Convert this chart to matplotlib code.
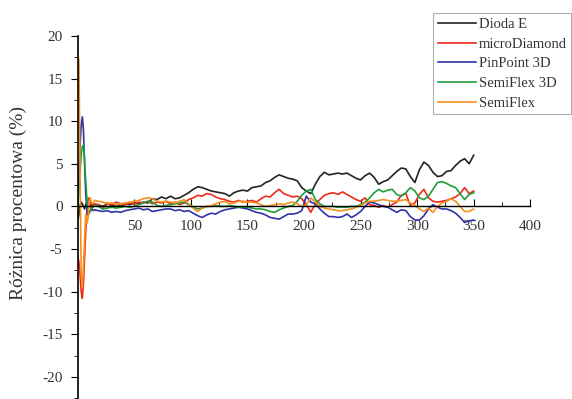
import numpy as np
import matplotlib
matplotlib.use("Agg")
import matplotlib.pyplot as plt
from matplotlib.ticker import MultipleLocator

plt.rcParams['font.family'] = ['Liberation Serif', 'DejaVu Serif']
plt.rcParams['axes.unicode_minus'] = False

# depth samples: every 1 near the surface, then every 4
x = np.concatenate([np.arange(0, 16), np.arange(18, 351, 4)])

dioda_e = [-1.5, -1.0, 0.0, 0.5, 0.3, 0.0, -0.3, 0.2, 0.4, 0.1, 0.0, 0.2, 0.1, 0.3, 0.2, 0.1,
           0.2, 0.0, 0.3, 0.1, 0.2, 0.0, 0.3, 0.2, 0.4, 0.3, 0.5, 0.4, 0.9, 0.8, 1.1, 0.9,
           1.2, 0.9, 1.0, 1.3, 1.6, 2.0, 2.3, 2.2, 2.0, 1.8, 1.7, 1.6, 1.5, 1.2, 1.6, 1.8,
           1.9, 1.8, 2.2, 2.3, 2.4, 2.8, 3.0, 3.4, 3.7, 3.5, 3.3, 3.2, 3.0, 2.2, 1.8, 1.5,
           2.6, 3.5, 4.0, 3.7, 3.8, 3.9, 3.8, 3.9, 3.6, 3.3, 3.1, 3.6, 3.9, 3.4, 2.6, 2.9,
           3.1, 3.6, 4.1, 4.5, 4.4, 3.5, 2.8, 4.3, 5.2, 4.8, 4.0, 3.5, 3.6, 4.1, 4.2, 4.8,
           5.3, 5.6, 5.0, 6.0]

micro_diamond = [-6.0, -6.5, -8.0, -10.0, -10.8, -9.0, -6.0, -3.0, -0.5, 0.8, 1.0, 0.3, -0.5, -0.2, 0.2, 0.3,
                 0.2, -0.3, 0.4, 0.2, 0.5, 0.3, 0.2, 0.4, 0.3, 0.5, 0.4, 0.6, 0.3, 0.5, 0.4, 0.6,
                 0.3, 0.5, 0.2, 0.4, 0.8, 1.0, 1.3, 1.2, 1.5, 1.4, 1.1, 0.9, 0.8, 0.6, 0.5, 0.7,
                 0.5, 0.6, 0.7, 0.5, 0.9, 1.2, 1.1, 1.6, 2.0, 1.5, 1.3, 1.1, 1.2, 0.9, 0.2, -0.7,
                 0.3, 0.8, 1.3, 1.5, 1.6, 1.4, 1.7, 1.4, 1.1, 0.8, 0.6, 1.0, 0.2, 0.1, -0.1, 0.1,
                 -0.1, 0.2, 0.5, 1.3, 1.5, 0.1, 0.4, 1.4, 2.0, 1.0, 0.6, 0.5, 0.6, 0.7, 0.9, 1.1,
                 1.5, 2.2, 1.5, 1.8]

pinpoint_3d = [0.0, 3.0, 7.0, 9.5, 10.5, 9.0, 5.0, 1.5, -0.5, -1.0, -0.8, -0.5, -0.3, -0.4, -0.5, -0.4,
               -0.5, -0.6, -0.5, -0.7, -0.6, -0.7, -0.5, -0.4, -0.3, -0.2, -0.4, -0.3, -0.6, -0.5, -0.4, -0.3,
               -0.3, -0.5, -0.4, -0.6, -0.5, -0.8, -1.1, -1.3, -1.0, -0.8, -0.9, -0.6, -0.4, -0.3, -0.2, -0.1,
               -0.2, -0.3, -0.5, -0.7, -0.8, -1.0, -1.3, -1.4, -1.5, -1.2, -0.9, -0.9, -0.8, -0.5, 1.2, 0.5,
               0.3, -0.3, -0.8, -1.2, -1.2, -1.3, -1.2, -0.9, -1.3, -1.0, -0.6, 0.0, 0.5, 0.4, 0.2, 0.0,
               -0.1, -0.4, -0.7, -0.4, -0.5, -1.2, -1.6, -1.6, -1.1, -0.3, 0.2, -0.1, -0.3, -0.3, -0.5, -0.8,
               -1.3, -1.9, -1.7, -1.6]

semiflex_3d = [0.0, 2.0, 4.0, 6.0, 7.0, 7.2, 5.5, 3.0, 1.0, -0.3, -0.8, -0.5, -0.3, -0.1, 0.0, 0.1,
               0.0, -0.3, -0.2, -0.1, -0.2, -0.1, 0.0, -0.1, 0.0, 0.2, 0.4, 0.6, 0.5, 0.1, 0.0, 0.1,
               0.2, 0.3, 0.4, 0.5, 0.2, -0.1, -0.3, -0.2, 0.0, 0.0, 0.1, 0.0, 0.0, 0.1, 0.0, -0.1,
               -0.1, -0.1, -0.2, -0.3, -0.3, -0.4, -0.6, -0.7, -0.4, -0.2, 0.0, 0.1, 0.6, 1.3, 1.8, 2.0,
               0.8, 0.3, 0.0, 0.0, 0.0, -0.1, -0.1, -0.1, 0.0, 0.0, 0.2, 0.5, 1.0, 1.6, 2.0, 1.7,
               1.9, 2.0, 1.4, 1.2, 1.6, 2.2, 1.8, 1.0, 0.8, 1.2, 2.0, 2.8, 2.9, 2.7, 2.4, 2.2,
               1.5, 0.8, 1.4, 1.6]

semiflex = [18.0, 17.0, 4.0, -8.0, -9.5, -7.0, -4.0, -1.0, -2.0, -1.5, 0.5, 1.0, 0.5, 0.3, 0.5, 0.7,
            0.6, 0.5, 0.3, 0.4, 0.2, 0.3, 0.4, 0.5, 0.6, 0.7, 0.9, 1.0, 0.9, 0.6, 0.5, 0.6,
            0.5, 0.4, 0.6, 0.8, 0.3, -0.2, -0.6, -0.2, 0.0, 0.1, 0.3, 0.5, 0.6, 0.3, 0.4, 0.6,
            0.6, 0.5, 0.5, 0.4, 0.2, 0.0, 0.1, 0.2, 0.3, 0.2, 0.4, 0.5, 0.3, 0.0, 0.2, 1.0,
            0.5, 0.0, -0.2, -0.3, -0.4, -0.5, -0.5, -0.4, -0.3, -0.1, 0.1, 0.4, 0.6, 0.6, 0.7, 0.8,
            0.7, 0.6, 0.6, 0.7, 0.8, 0.4, 0.1, -0.3, -0.6, -0.2, -0.7, 0.0, 0.4, 0.6, 0.9, 0.6,
            0.0, -0.6, -0.6, -0.3]

series = [
    ("Dioda E", dioda_e, "#222222"),
    ("microDiamond", micro_diamond, "#ee2a1a"),
    ("PinPoint 3D", pinpoint_3d, "#3232a8"),
    ("SemiFlex 3D", semiflex_3d, "#1f9e3c"),
    ("SemiFlex", semiflex, "#f5901e"),
]

fig = plt.figure(figsize=(5.72, 3.99), dpi=100)
ax = fig.add_axes([0.136, 0.0, 0.791, 0.91])

for name, vals, col in series:
    ax.plot(x, vals, color=col, lw=1.2, label=name)

ax.set_xlim(0, 400)
ax.set_ylim(-22.6, 20)

ax.spines['top'].set_visible(False)
ax.spines['right'].set_visible(False)
ax.spines['bottom'].set_position(('data', 0))
ax.spines['left'].set_linewidth(1.2)
ax.spines['bottom'].set_linewidth(1.0)

ax.xaxis.set_major_locator(MultipleLocator(50))
ax.xaxis.set_minor_locator(MultipleLocator(25))
ax.yaxis.set_major_locator(MultipleLocator(5))
ax.yaxis.set_minor_locator(MultipleLocator(2.5))

ax.tick_params(axis='x', which='major', direction='in', length=5, pad=10,
               labelsize=11, labelcolor='#333333')
ax.tick_params(axis='x', which='minor', direction='in', length=3)
ax.tick_params(axis='y', which='major', direction='out', length=5, pad=6,
               labelsize=11, labelcolor='#333333')
ax.tick_params(axis='y', which='minor', direction='out', length=3)

ax.set_xticks(np.arange(50, 401, 50))

fig.text(0.032, 0.49, "Różnica procentowa (%)", rotation=90, ha='center',
         va='center', fontsize=14, color='#333333')

leg = fig.legend(loc='upper left', bbox_to_anchor=(0.745, 0.985), fontsize=10.5,
                 frameon=True, fancybox=False, handlelength=2.6,
                 handletextpad=0.2, labelspacing=0.45, borderpad=0.3)
leg.get_frame().set_edgecolor('#999999')
leg.get_frame().set_linewidth(0.8)
for t in leg.get_texts():
    t.set_color('#333333')

fig.savefig("out.png", dpi=100)
